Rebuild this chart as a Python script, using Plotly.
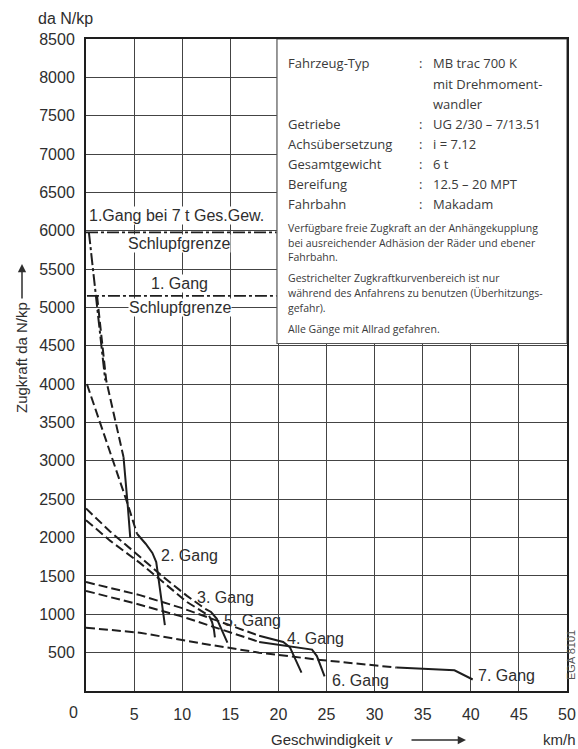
import plotly.graph_objects as go

# ---------------- data ----------------
x_ticks = [5, 10, 15, 20, 25, 30, 35, 40, 45, 50]
y_ticks = [500, 1000, 1500, 2000, 2500, 3000, 3500, 4000, 4500,
           5000, 5500, 6000, 6500, 7000, 7500, 8000, 8500]

# slip limits (Schlupfgrenze)
slip_7t_v = [0.0, 19.8]
slip_7t_F = [5980, 5980]
slip_6t_v = [0.1, 19.8]
slip_6t_F = [5150, 5150]

# 1st gear, 7 t (dash-dot)
g1_7t_v = [0.3, 1.0, 2.0]
g1_7t_F = [5980, 5150, 4050]
# 1st gear
g1_dash_v = [1.15, 1.6, 2.1, 3.0, 3.9]
g1_dash_F = [5150, 4600, 4050, 3550, 3050]
g1_solid_v = [3.9, 4.1, 4.35, 4.6]
g1_solid_F = [3050, 2800, 2400, 2000]
# 2nd gear
g2_dash_v = [0.1, 2.0, 4.3, 5.3]
g2_dash_F = [4000, 3300, 2450, 2050]
g2_solid_v = [5.3, 6.2, 6.9, 7.3, 7.5, 7.7, 7.9, 8.2]
g2_solid_F = [2050, 1920, 1800, 1680, 1500, 1300, 1100, 860]
# 3rd gear
g3_dash_v = [0.0, 2.5, 5.6, 8.0, 10.5, 12.4]
g3_dash_F = [2380, 2080, 1750, 1490, 1240, 1070]
g3_solid_v = [12.4, 13.0, 13.6, 14.1, 14.7]
g3_solid_F = [1070, 1030, 940, 790, 630]
# 5th gear
g5_dash_v = [0.0, 2.5, 5.6, 8.0, 10.5, 12.8]
g5_dash_F = [2227, 1960, 1670, 1420, 1160, 980]
g5_solid_v = [12.8, 13.1, 13.3, 13.4]
g5_solid_F = [980, 900, 800, 700]
# 4th gear
g4_dash_v = [0.0, 5.6, 10.0, 15.0, 18.0]
g4_dash_F = [1420, 1250, 1080, 850, 720]
g4_solid_v = [18.0, 20.5, 21.2, 21.8, 22.4]
g4_solid_F = [720, 640, 570, 400, 240]
# 6th gear
g6_dash_v = [0.0, 5.6, 10.0, 15.0, 18.0]
g6_dash_F = [1305, 1125, 970, 760, 640]
g6_solid_v = [18.0, 22.2, 23.5, 24.0, 24.4, 24.8]
g6_solid_F = [640, 570, 540, 455, 330, 190]
# 7th gear
g7_dash_v = [0.0, 5.6, 12.0, 18.0, 24.0, 32.3]
g7_dash_F = [825, 760, 620, 500, 410, 305]
g7_solid_v = [32.3, 38.3, 40.2]
g7_solid_F = [305, 270, 150]

info_labels = ["Fahrzeug-Typ", "", "", "Getriebe", "Achsübersetzung",
               "Gesamtgewicht", "Bereifung", "Fahrbahn"]
info_values = ["MB trac 700 K", "mit Drehmoment-", "wandler", "UG 2/30 – 7/13.51",
               "i = 7.12", "6 t", "12.5 – 20 MPT", "Makadam"]
info_notes = ["Verfügbare freie Zugkraft an der Anhängekupplung",
              "bei ausreichender Adhäsion der Räder und ebener",
              "Fahrbahn.",
              "Gestrichelter Zugkraftkurvenbereich ist nur",
              "während des Anfahrens zu benutzen (Überhitzungs-",
              "gefahr).",
              "Alle Gänge mit Allrad gefahren."]

# ---------------- figure ----------------
W, H = 578, 749
ML, MR, MT, MB = 86, 11, 39, 58
PW, PH = W - ML - MR, H - MT - MB


def X(px):
    return (px - ML) / PW


def Y(py):
    return (H - MB - py) / PH


INK = "#1e1e1e"
TXT = "#2e2e2e"
DASH = "9px,4px"
DASHDOT = "12px,3px,3px,3px"
AX_FONT = "Liberation Sans, Arial, sans-serif"
INFO_FONT = "Open Sans, Noto Sans, sans-serif"

fig = go.Figure()


def add(v, F, dash, width=2.0):
    fig.add_trace(go.Scatter(x=v, y=F, mode="lines",
                             line=dict(color=INK, width=width, dash=dash),
                             hoverinfo="skip", showlegend=False))


add(slip_7t_v, slip_7t_F, DASHDOT, 1.8)
add(slip_6t_v, slip_6t_F, DASHDOT, 1.8)
add(g1_7t_v, g1_7t_F, DASHDOT)
add(g1_dash_v, g1_dash_F, DASH)
add(g1_solid_v, g1_solid_F, "solid")
add(g2_dash_v, g2_dash_F, DASH)
add(g2_solid_v, g2_solid_F, "solid")
add(g3_dash_v, g3_dash_F, DASH)
add(g3_solid_v, g3_solid_F, "solid")
add(g5_dash_v, g5_dash_F, DASH)
add(g5_solid_v, g5_solid_F, "solid")
add(g4_dash_v, g4_dash_F, DASH)
add(g4_solid_v, g4_solid_F, "solid")
add(g6_dash_v, g6_dash_F, DASH)
add(g6_solid_v, g6_solid_F, "solid")
add(g7_dash_v, g7_dash_F, DASH)
add(g7_solid_v, g7_solid_F, "solid")

# info box
fig.add_shape(type="rect", xref="x", yref="y", x0=19.85, x1=50, y0=4530, y1=8500,
              fillcolor="white", line=dict(color="#555", width=1.2), layer="between")

ann = []


def txt(text, px, py, size=16, xanchor="center", font=AX_FONT, color=TXT,
        bg=None, angle=0):
    d = dict(text=text, x=X(px), y=Y(py), xref="paper", yref="paper",
             showarrow=False, xanchor=xanchor, yanchor="middle",
             font=dict(family=font, size=size, color=color), textangle=angle,
             borderpad=0)
    if bg:
        d["bgcolor"] = bg
    ann.append(d)


info_rows = [63, 84, 104, 124, 144, 164, 184, 204]
for lab, val, py in zip(info_labels, info_values, info_rows):
    if lab:
        txt(lab, 287, py, 13, "left", INFO_FONT, "#3a3a3a")
        txt(":", 418, py, 13, "left", INFO_FONT, "#3a3a3a")
    txt(val, 432, py, 13, "left", INFO_FONT, "#3a3a3a")

note_rows = [228, 243, 257, 278, 293, 308, 329]
for note, py in zip(info_notes, note_rows):
    txt(note, 287, py, 10.5, "left", INFO_FONT, "#3a3a3a")

# chart labels
txt("1.Gang bei 7 t Ges.Gew.", 176, 215, 16, bg="white")
txt("Schlupfgrenze", 179, 244, 16, bg="white")
txt("1. Gang", 179, 283, 16, bg="white")
txt("Schlupfgrenze", 180, 308, 16, bg="white")
txt("2. Gang", 189, 555, 16)
txt("3. Gang", 225, 597, 16)
txt("5. Gang", 252, 620, 16)
txt("4. Gang", 315, 638, 16)
txt("6. Gang", 360, 680, 16)
txt("7. Gang", 506, 675, 16)

# axis texts
txt("da N/kp", 37, 18, 16, "left")
txt("0", 73, 712, 16)
txt("Zugkraft da N/kp", 22, 358, 15, angle=-90)
txt("Geschwindigkeit <i>v</i>", 270, 740, 15, "left")
txt("km/h", 577, 740, 15, "right")
txt("EGA 8101", 571, 655, 11, color="#555", angle=-90)

# arrows
ann.append(dict(x=X(466), y=Y(740), xref="paper", yref="paper", ax=-56, ay=0,
                showarrow=True, arrowhead=2, arrowsize=1.1, arrowwidth=1.5,
                arrowcolor=TXT, text=""))
ann.append(dict(x=X(22), y=Y(264), xref="paper", yref="paper", ax=0, ay=36,
                showarrow=True, arrowhead=2, arrowsize=1.1, arrowwidth=1.5,
                arrowcolor=TXT, text=""))

axis_common = dict(showgrid=True, gridcolor="#444", gridwidth=1.2,
                   showline=True, linecolor=INK, linewidth=2, mirror=True,
                   ticks="", zeroline=False, automargin=False,
                   tickfont=dict(family=AX_FONT, size=16, color=TXT))

fig.update_xaxes(range=[0, 50], tickvals=x_ticks, ticklabelstandoff=8, **axis_common)
fig.update_yaxes(range=[0, 8500], tickvals=y_ticks, ticklabelstandoff=6, **axis_common)

fig.update_layout(width=W, height=H,
                  margin=dict(l=ML, r=MR, t=MT, b=MB),
                  plot_bgcolor="white", paper_bgcolor="white",
                  showlegend=False, annotations=ann)

fig.write_html("out.html", config={"displayModeBar": False},
               post_script="document.body.style.margin='0px';"
                           "document.body.style.overflow='hidden';")
